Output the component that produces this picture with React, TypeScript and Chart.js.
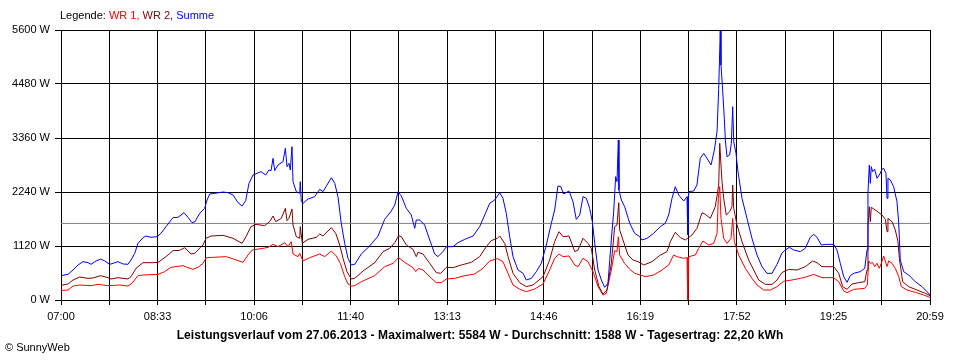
import React, { useEffect, useRef } from 'react';
import { Chart, registerables } from 'chart.js';

Chart.register(...registerables);

// X axis: minutes since 07:00 (07:00 .. 20:59), 18 grid steps
const X_MAX = 839;
const GRID_STEPS = 18;
const xTickLabels = ['07:00', '08:33', '10:06', '11:40', '13:13', '14:46', '16:19', '17:52', '19:25', '20:59'];
const Y_MAX = 5600;
const Y_STEP = 1120;
const AVERAGE = 1588;

// Summe (blue)
const sumTimes = [0, 6.8, 11.6, 16.4, 21.2, 26.1, 29.0, 33.8, 38.3, 42.2,
  47.0, 50.2, 55.0, 59.9, 64.7, 67.6, 71.2, 74.3, 79.2, 82.1,
  86.9, 92.7, 96.5, 101.4, 108.1, 113.0, 118.8, 122.6, 126.5, 129.4,
  133.9, 138.7, 141.0, 143.6, 148.4, 156.4, 161.2, 166.1, 170.9, 174.8,
  178.3, 181.5, 185.4, 193.1, 197.6, 200.8, 202.8, 204.7, 206.3, 209.5,
  214.3, 216.6, 218.2, 220.1, 221.4, 223.0, 224.0, 227.2, 230.5, 231.0,
  232.0, 233.6, 238.5, 244.9, 249.8, 253.0, 256.8, 261.0, 264.3, 267.4,
  270.6, 273.9, 277.1, 280.3, 283.6, 289.9, 298.0, 306.1, 312.5, 318.9,
  322.2, 325.4, 328.6, 333.4, 338.2, 341.5, 343.0, 346.3, 351.1, 356.0,
  360.8, 364.0, 368.8, 372.0, 378.5, 383.3, 389.8, 397.8, 404.2, 409.1,
  413.9, 418.7, 423.6, 426.7, 429.9, 433.2, 436.4, 441.2, 446.1, 449.2,
  454.1, 458.9, 463.7, 468.6, 473.4, 476.6, 479.8, 482.5, 485.3, 490.5,
  494.3, 497.5, 500.8, 504.0, 507.2, 510.4, 513.0, 515.3, 518.5, 521.7,
  524.9, 528.1, 531.3, 533.6, 535.5, 536.8, 538.1, 538.7, 541.0, 544.2,
  549.1, 553.9, 558.7, 560.9, 565.8, 572.2, 578.6, 583.4, 586.7, 589.9,
  593.1, 596.4, 601.2, 604.4, 605.1, 606.0, 610.9, 614.0, 617.2, 620.5,
  623.7, 627.6, 630.8, 633.4, 635.0, 636.0, 636.5, 637.2, 638.5, 640.4,
  641.4, 643.0, 645.6, 647.2, 648.5, 649.5, 651.7, 653.6, 657.5, 662.3,
  667.1, 672.0, 676.8, 681.6, 686.5, 691.3, 696.1, 699.3, 703.2, 707.4,
  713.8, 718.6, 723.4, 726.7, 729.9, 734.1, 739.6, 746.0, 749.2, 752.4,
  755.7, 758.9, 762.0, 765.3, 771.7, 776.0, 778.2, 779.1, 780.4, 781.4,
  782.3, 783.7, 785.6, 787.8, 790.1, 792.7, 794.3, 796.5, 797.5, 798.4,
  800.7, 803.9, 807.1, 808.8, 810.3, 813.6, 818.4, 824.8, 831.3, 836.1,
  839.0];
const sumValues = [505, 532, 622, 726, 795, 774, 740, 809, 850, 809,
  740, 760, 795, 747, 740, 830, 968, 1175, 1293, 1327,
  1300, 1313, 1383, 1521, 1708, 1715, 1811, 1715, 1604, 1625,
  1798, 1901, 2074, 2199, 2212, 2240, 2226, 2178, 2019, 1950,
  2060, 2420, 2593, 2662, 2593, 2696, 2683, 2938, 2683, 2800,
  2869, 3146, 2766, 2835, 2696, 3180, 2455, 2247, 2212, 2455,
  2040, 2005, 2095, 2143, 2295, 2247, 2385, 2537, 2420, 2143,
  1590, 1175, 864, 726, 740, 954, 1120, 1327, 1673, 1846,
  1970, 2247, 2157, 1901, 1763, 1486, 1659, 1659, 1556, 1245,
  954, 899, 1003, 1106, 1106, 1189, 1258, 1327, 1521, 1763,
  2005, 2074, 2226, 2109, 1798, 1313, 899, 622, 553, 415,
  449, 588, 760, 1141, 1590, 1867, 2365, 2351, 2199, 2261,
  2040, 1673, 1763, 2143, 2109, 1901, 1625, 1175, 622, 415,
  263, 346, 1245, 1832, 2558, 2455, 3319, 2282, 2074, 1936,
  1590, 1383, 1313, 1245, 1279, 1383, 1521, 1590, 1763, 2109,
  2351, 2178, 2053, 2143, 1348, 2247, 2261, 2385, 2938, 3042,
  2938, 2800, 3111, 3492, 4390, 5186, 5584, 4874, 4459, 3768,
  3319, 2973, 3008, 3250, 4010, 3284, 3042, 2662, 2109, 1694,
  1279, 933, 691, 553, 553, 740, 975, 1037, 1092, 1037,
  1003, 1072, 1300, 1362, 1300, 1141, 1155, 1155, 1037, 760,
  484, 366, 505, 553, 588, 657, 1037, 2212, 2800, 2420,
  2766, 2662, 2710, 2524, 2593, 2710, 2731, 2627, 2109, 2524,
  2489, 2351, 2040, 1590, 830, 588, 519, 380, 277, 173,
  104];

// WR 2 (dark red)
const wr2Times = [0, 6.8, 11.6, 18.1, 26.1, 30.9, 38.3, 45.4, 48.3, 55.0,
  64.7, 67.6, 72.4, 79.2, 88.8, 93.7, 101.4, 108.1, 114.6, 119.4,
  125.5, 129.1, 135.2, 137.1, 140.0, 144.8, 156.4, 166.1, 174.8, 178.6,
  183.4, 188.3, 196.7, 201.5, 204.7, 207.3, 212.7, 216.6, 218.2, 220.1,
  223.0, 224.0, 227.2, 230.5, 231.0, 233.0, 238.5, 246.5, 249.8, 253.0,
  261.0, 265.2, 269.1, 272.3, 276.1, 280.3, 283.6, 291.6, 302.9, 310.9,
  317.4, 322.2, 326.0, 328.6, 333.4, 339.8, 343.0, 344.7, 349.5, 356.0,
  362.3, 366.6, 372.0, 378.5, 386.5, 396.1, 404.2, 410.6, 415.4, 421.2,
  423.6, 428.4, 431.6, 436.4, 442.9, 449.2, 455.7, 465.4, 471.8, 476.6,
  480.8, 484.7, 490.5, 496.0, 499.2, 504.0, 508.8, 512.0, 515.3, 519.4,
  523.3, 527.1, 531.3, 534.6, 536.8, 538.5, 539.4, 542.6, 547.4, 552.2,
  557.1, 562.6, 570.6, 578.6, 585.1, 588.3, 593.1, 597.9, 602.8, 609.2,
  614.0, 618.9, 622.0, 626.9, 631.7, 635.0, 636.0, 637.2, 638.2, 639.8,
  642.3, 645.6, 647.8, 648.5, 649.5, 652.7, 657.5, 663.9, 668.8, 673.6,
  680.0, 686.5, 691.3, 696.1, 702.6, 710.6, 718.6, 725.7, 729.9, 734.7,
  746.0, 750.9, 754.7, 758.9, 763.7, 770.2, 776.0, 778.2, 779.1, 780.4,
  781.4, 782.3, 786.2, 792.7, 795.9, 797.5, 798.4, 802.3, 805.5, 808.1,
  809.4, 812.6, 818.4, 826.4, 834.5, 839.0];
const wr2Values = [304, 332, 415, 477, 449, 456, 505, 463, 435, 463,
  435, 484, 657, 774, 774, 781, 899, 1023, 1030, 1085,
  954, 968, 1106, 1141, 1279, 1327, 1341, 1279, 1175, 1313,
  1521, 1569, 1542, 1625, 1742, 1625, 1694, 1901, 1646, 1694,
  1888, 1556, 1313, 1279, 1521, 1175, 1258, 1300, 1369, 1327,
  1500, 1383, 1141, 864, 588, 435, 449, 601, 774, 1003,
  1072, 1189, 1334, 1313, 1141, 1051, 899, 989, 954, 760,
  567, 553, 678, 671, 726, 781, 899, 1106, 1231, 1279,
  1327, 1175, 899, 553, 360, 277, 311, 484, 830, 1210,
  1417, 1313, 1327, 1003, 1037, 1279, 1175, 1072, 622, 277,
  124, 207, 760, 1521, 1556, 2019, 1452, 1245, 933, 830,
  795, 726, 795, 933, 1003, 1210, 1404, 1293, 1245, 1348,
  1486, 1811, 1777, 1694, 1936, 2385, 3250, 2800, 2455, 2109,
  1763, 1832, 1936, 2385, 1901, 1556, 1210, 830, 622, 415,
  325, 325, 415, 570, 636, 622, 691, 809, 774, 691,
  691, 553, 277, 221, 332, 360, 380, 622, 1521, 1936,
  1625, 1922, 1867, 1763, 1673, 1417, 1694, 1625, 1452, 1210,
  864, 380, 277, 207, 138, 90];

// WR 1 (red)
const wr1Times = [0, 6.8, 11.6, 18.1, 29.0, 35.7, 45.4, 56.7, 64.7, 68.5,
  74.3, 79.2, 93.7, 100.1, 106.2, 117.8, 122.6, 127.4, 132.3, 137.1,
  140.3, 146.8, 159.6, 169.2, 175.7, 180.5, 184.7, 195.0, 199.9, 204.7,
  209.5, 216.0, 219.2, 222.3, 224.0, 228.8, 230.5, 233.6, 240.1, 249.8,
  254.6, 261.0, 265.8, 269.7, 273.9, 277.1, 280.3, 283.6, 289.9, 302.9,
  312.5, 320.5, 326.0, 331.8, 339.8, 342.5, 345.3, 349.5, 357.5, 362.3,
  367.2, 372.0, 380.1, 389.8, 399.4, 407.4, 413.9, 421.2, 426.7, 431.6,
  436.4, 442.9, 449.2, 457.3, 465.4, 471.8, 476.6, 480.8, 484.7, 490.5,
  496.0, 499.2, 504.0, 508.8, 513.6, 518.5, 523.3, 526.5, 531.3, 534.6,
  536.8, 538.1, 539.4, 544.2, 549.1, 553.9, 561.2, 564.1, 572.2, 580.3,
  586.7, 591.5, 594.7, 601.2, 604.4, 605.1, 606.0, 612.4, 615.7, 619.8,
  625.3, 630.2, 633.4, 634.6, 636.0, 637.2, 639.8, 643.0, 646.9, 648.5,
  650.1, 654.3, 660.7, 667.1, 672.0, 678.4, 684.8, 691.3, 697.8, 705.8,
  713.8, 720.3, 726.7, 734.7, 746.0, 750.9, 755.7, 758.9, 765.3, 776.0,
  778.5, 779.8, 781.4, 783.7, 785.6, 787.8, 790.1, 792.0, 794.3, 797.5,
  799.1, 802.3, 805.5, 808.8, 811.3, 816.8, 824.8, 832.9, 839.0];
const wr1Values = [200, 207, 290, 311, 297, 325, 297, 311, 290, 346,
  505, 518, 532, 588, 678, 712, 671, 636, 678, 760,
  878, 885, 899, 830, 781, 933, 1037, 1072, 1092, 1155,
  1106, 1189, 1106, 1210, 954, 899, 968, 809, 878, 954,
  899, 1016, 913, 760, 484, 332, 290, 297, 380, 505,
  691, 760, 878, 781, 671, 588, 657, 622, 449, 360,
  360, 435, 449, 505, 539, 657, 809, 860, 795, 553,
  311, 221, 173, 228, 332, 622, 864, 954, 899, 913,
  726, 691, 864, 795, 588, 277, 104, 138, 622, 1023,
  1003, 1313, 933, 760, 636, 553, 505, 484, 518, 622,
  726, 933, 899, 864, 878, 0, 899, 933, 1072, 1224,
  1141, 1175, 1383, 2109, 2351, 1694, 1279, 1175, 1279, 1694,
  1210, 933, 657, 449, 311, 207, 207, 277, 390, 415,
  449, 484, 532, 463, 463, 380, 187, 152, 221, 242,
  311, 809, 760, 774, 691, 760, 657, 760, 913, 691,
  809, 760, 657, 484, 277, 207, 159, 104, 55];

const FONT = 'Liberation Sans, Arial, sans-serif';

export default function App() {
  const canvasRef = useRef<HTMLCanvasElement | null>(null);

  useEffect(() => {
    const toPoints = (t: number[], v: number[]) => t.map((x, i) => ({ x, y: v[i] }));
    const chart = new Chart(canvasRef.current as HTMLCanvasElement, {
      type: 'line',
      data: {
        datasets: [
          { label: 'Summe', data: toPoints(sumTimes, sumValues), borderColor: '#0000ff' },
          { label: 'WR 2', data: toPoints(wr2Times, wr2Values), borderColor: '#800000' },
          { label: 'WR 1', data: toPoints(wr1Times, wr1Values), borderColor: '#ff0000' },
          { label: 'Durchschnitt', data: [{ x: 0, y: AVERAGE }, { x: X_MAX, y: AVERAGE }], borderColor: '#808080' },
        ],
      },
      options: {
        animation: false,
        responsive: false,
        layout: { padding: { left: 0, top: 30, right: 30, bottom: 34 } },
        plugins: {
          legend: { display: false },
          tooltip: { enabled: false },
          title: { display: false },
        },
        elements: {
          point: { radius: 0 },
          line: { borderWidth: 1, tension: 0, fill: false },
        },
        scales: {
          x: {
            type: 'linear',
            min: 0,
            max: X_MAX,
            afterBuildTicks: (scale: any) => {
              scale.ticks = Array.from({ length: GRID_STEPS + 1 }, (_, i) => ({ value: (i * X_MAX) / GRID_STEPS }));
            },
            afterFit: (scale: any) => { scale.height = 26; },
            ticks: {
              autoSkip: false,
              maxRotation: 0,
              padding: 5,
              color: '#000',
              font: { family: FONT, size: 11 },
              callback: (_v: any, i: number) => (i % 2 === 0 ? xTickLabels[i / 2] : ''),
            },
            grid: { color: '#000', lineWidth: 1, tickLength: 5, drawTicks: true },
            border: { color: '#000', width: 1 },
          },
          y: {
            min: 0,
            max: Y_MAX,
            afterFit: (scale: any) => { scale.width = 61; },
            ticks: {
              stepSize: Y_STEP,
              padding: 5,
              color: '#000',
              font: { family: FONT, size: 11 },
              callback: (v: any) => `${v} W`,
            },
            grid: { color: '#000', lineWidth: 1, tickLength: 6, drawTicks: true },
            border: { color: '#000', width: 1 },
          },
        },
      },
    });
    return () => chart.destroy();
  }, []);

  return (
    <div style={{ position: 'fixed', left: 0, top: 0, width: 960, height: 360, background: '#fff', fontFamily: FONT }}>
      <canvas ref={canvasRef} width={960} height={360} style={{ position: 'absolute', left: 0, top: 0 }} />
      <div style={{ position: 'absolute', left: 60, top: 9, fontSize: 11, lineHeight: '13px', whiteSpace: 'nowrap', color: '#000' }}>
        Legende: <span style={{ color: '#ff0000' }}>WR 1,</span> <span style={{ color: '#800000' }}>WR 2,</span>{' '}
        <span style={{ color: '#0000ff' }}>Summe</span>
      </div>
      <div style={{ position: 'absolute', left: 0, top: 328, width: 960, textAlign: 'center', fontSize: 12, fontWeight: 'bold', letterSpacing: '0.1px', lineHeight: '14px', whiteSpace: 'nowrap', color: '#000' }}>
        Leistungsverlauf vom 27.06.2013 - Maximalwert: 5584 W - Durchschnitt: 1588 W - Tagesertrag: 22,20 kWh
      </div>
      <div style={{ position: 'absolute', left: 5, top: 341, fontSize: 11, lineHeight: '13px', whiteSpace: 'nowrap', color: '#000' }}>
        © SunnyWeb
      </div>
    </div>
  );
}
